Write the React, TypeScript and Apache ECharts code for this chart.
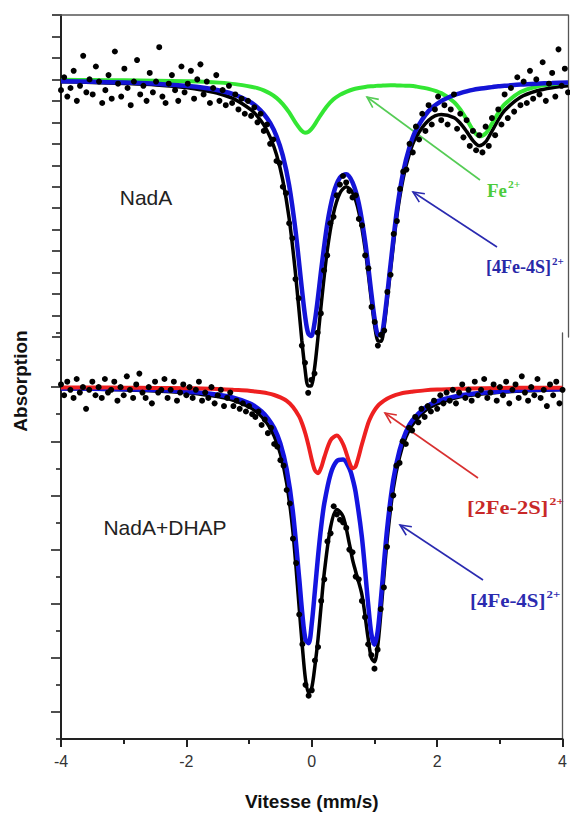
import React, { useEffect, useRef } from "react";
import * as echarts from "echarts";

// Velocity channels of the folded spectra (mm/s)
const VELOCITY_START = -4;
const VELOCITY_STEP = 0.05;

// ---- NadA (upper spectrum) ----
const UPPER_COUNTS = [
  11.5, 12.1, 11.2, 11.6, 12.4, 11.0, 11.7, 13.1, 11.4, 12.0, 11.3, 12.6, 11.9, 10.9, 11.5, 12.2, 11.1, 13.3, 11.8, 11.2,
  12.5, 11.6, 10.8, 11.9, 12.9, 11.3, 11.7, 11.0, 12.3, 11.4, 11.9, 13.5, 11.2, 10.9, 11.8, 12.2, 11.5, 11.0, 12.6, 11.4,
  11.8, 12.4, 11.1, 12.0, 12.7, 11.3, 11.9, 10.9, 11.6, 12.2, 11.0, 11.5, 10.8, 11.7, 10.9, 11.3, 10.6, 11.1, 10.4, 11.0,
  10.3, 10.7, 10.0, 10.4, 9.6, 9.9, 9.0, 9.2, 8.2, 8.1, 7.0, 6.7, 5.3, 4.6, 2.7, 1.8, -0.4, -1.2, -2.6, -2.0,
  -1.7, 0.2, 1.1, 3.1, 3.8, 5.3, 5.6, 6.6, 7.1, 7.5, 7.2, 6.8, 6.5, 6.6, 5.5, 5.2, 3.8, 3.2, 1.4, 0.7,
  -0.4, 0.1, 0.3, 2.1, 2.9, 4.8, 5.4, 6.9, 7.7, 7.8, 9.0, 8.6, 9.8, 9.2, 10.4, 9.6, 10.8, 9.9, 10.6, 11.2,
  10.1, 10.8, 9.9, 10.6, 11.3, 9.7, 10.4, 9.3, 10.1, 8.9, 9.6, 8.7, 9.4, 8.6, 9.8, 8.9, 10.2, 9.4, 10.6, 9.9,
  11.3, 10.2, 11.6, 10.5, 12.1, 10.8, 11.9, 10.9, 12.4, 11.1, 12.0, 11.3, 12.8, 11.0, 11.8, 12.3, 11.2, 13.4, 11.7, 12.5,
  11.4,
];

const UPPER_FIT_VELOCITY = [
  -4, -3.5, -3, -2.5, -2, -1.75, -1.5, -1.25, -1, -0.9, -0.8, -0.7, -0.6, -0.5, -0.4, -0.3, -0.2, -0.15, -0.1, -0.05,
  0, 0.05, 0.1, 0.2, 0.3, 0.4, 0.5, 0.6, 0.7, 0.8, 0.9, 0.95, 1, 1.05, 1.1, 1.2, 1.3, 1.4, 1.5, 1.6,
  1.8, 2, 2.2, 2.3, 2.4, 2.5, 2.6, 2.7, 2.8, 2.9, 3, 3.25, 3.5, 3.75, 4,
];
const UPPER_FIT_TOTAL = [
  11.89, 11.86, 11.81, 11.74, 11.61, 11.49, 11.33, 11.06, 10.58, 10.28, 9.88, 9.31, 8.5, 7.3, 5.52, 2.96, -0.15, -1.48, -2.28, -2.27,
  -1.48, -0.16, 1.34, 4.0, 5.76, 6.7, 7.0, 6.73, 5.81, 4.08, 1.65, 0.51, -0.18, -0.2, 0.51, 3.11, 5.62, 7.4, 8.56, 9.3,
  10.09, 10.36, 10.22, 9.96, 9.58, 9.15, 8.91, 9.09, 9.59, 10.12, 10.55, 11.17, 11.46, 11.61, 11.7,
];
const UPPER_FIT_4FE4S = [
  11.91, 11.89, 11.85, 11.8, 11.69, 11.61, 11.48, 11.28, 10.92, 10.7, 10.39, 9.97, 9.36, 8.45, 7.06, 4.97, 2.26, 1.0, 0.17, 0.05,
  0.64, 1.72, 2.99, 5.24, 6.69, 7.42, 7.58, 7.2, 6.21, 4.43, 1.97, 0.82, 0.11, 0.09, 0.79, 3.38, 5.9, 7.69, 8.86, 9.63,
  10.53, 10.99, 11.27, 11.36, 11.44, 11.51, 11.56, 11.6, 11.64, 11.68, 11.7, 11.76, 11.8, 11.83, 11.86,
];
const UPPER_FIT_FE2 = [
  11.98, 11.97, 11.96, 11.94, 11.91, 11.89, 11.85, 11.78, 11.66, 11.59, 11.49, 11.34, 11.14, 10.85, 10.46, 9.99, 9.6, 9.52, 9.55, 9.68,
  9.88, 10.12, 10.35, 10.76, 11.07, 11.28, 11.42, 11.53, 11.6, 11.65, 11.68, 11.69, 11.71, 11.71, 11.72, 11.73, 11.72, 11.71, 11.7, 11.67,
  11.56, 11.36, 10.95, 10.6, 10.14, 9.64, 9.35, 9.48, 9.94, 10.44, 10.84, 11.41, 11.66, 11.77, 11.84,
];

// ---- NadA + DHAP (lower spectrum) ----
const LOWER_COUNTS = [
  13.1, 12.7, 13.2, 12.9, 12.6, 13.3, 12.8, 13.0, 12.2, 12.9, 13.2, 12.7, 13.0, 12.6, 13.3, 12.8, 12.9, 13.2, 12.5, 13.0,
  12.7, 13.4, 12.9, 12.6, 13.1, 13.5, 12.8, 12.6, 13.0, 12.4, 13.2, 12.8, 12.9, 13.3, 12.6, 12.9, 13.2, 12.5, 12.8, 13.1,
  12.7, 13.0, 12.6, 12.9, 13.2, 12.5, 12.8, 12.6, 13.0, 12.4, 12.7, 12.9, 12.3, 12.6, 12.8, 12.3, 12.5, 12.2, 12.4, 12.1,
  12.3, 12.0, 11.9, 12.1, 11.6, 11.8, 11.3, 11.5, 10.9, 10.8, 10.3, 10.1, 9.2, 8.7, 7.4, 6.5, 4.6, 3.5, 2.0, 1.6,
  1.8, 2.9, 3.4, 5.1, 5.9, 7.3, 7.6, 8.6, 8.3, 8.1, 8.0, 7.8, 7.0, 6.9, 6.0, 5.9, 5.1, 4.5, 3.5, 3.1,
  2.6, 3.3, 4.8, 5.6, 7.1, 8.5, 9.0, 10.1, 10.2, 11.0, 10.9, 11.5, 11.4, 11.9, 11.7, 12.2, 11.9, 12.3, 12.1, 12.5,
  12.2, 12.7, 12.4, 12.8, 12.5, 12.9, 12.4, 12.8, 13.1, 12.6, 12.9, 12.5, 13.2, 12.7, 12.9, 13.3, 12.6, 12.8, 13.1, 12.5,
  13.0, 12.7, 13.2, 12.4, 12.9, 13.1, 12.6, 13.4, 12.8, 12.5, 13.0, 12.7, 13.3, 12.6, 12.9, 12.3, 13.1, 12.7, 13.2, 12.4,
  12.9,
];

const LOWER_FIT_VELOCITY = [
  -4, -3.5, -3, -2.5, -2, -1.75, -1.5, -1.25, -1, -0.9, -0.8, -0.7, -0.6, -0.5, -0.4, -0.3, -0.2, -0.15, -0.1, -0.05,
  0, 0.05, 0.1, 0.15, 0.2, 0.3, 0.4, 0.5, 0.6, 0.65, 0.7, 0.8, 0.9, 0.95, 1, 1.05, 1.1, 1.2, 1.3, 1.4,
  1.5, 1.6, 1.8, 2, 2.25, 2.5, 3, 3.5, 4,
];
const LOWER_FIT_TOTAL = [
  12.94, 12.93, 12.9, 12.86, 12.79, 12.73, 12.65, 12.51, 12.27, 12.12, 11.91, 11.62, 11.19, 10.53, 9.45, 7.64, 4.83, 3.4, 2.2, 1.7,
  1.9, 2.7, 3.7, 4.95, 6.15, 7.83, 8.48, 8.22, 7.21, 6.63, 6.19, 5.33, 3.7, 3.0, 2.85, 3.4, 4.6, 7.29, 9.25, 10.42,
  11.14, 11.59, 12.11, 12.38, 12.58, 12.69, 12.81, 12.87, 12.91,
];
const LOWER_FIT_4FE4S = [
  12.95, 12.94, 12.92, 12.89, 12.83, 12.79, 12.72, 12.61, 12.41, 12.28, 12.1, 11.85, 11.49, 10.91, 9.96, 8.37, 5.92, 4.6, 3.67, 3.54,
  4.27, 5.48, 6.75, 7.85, 8.71, 9.79, 10.27, 10.33, 9.99, 9.63, 9.11, 7.44, 4.97, 3.89, 3.48, 3.96, 5.1, 7.72, 9.57, 10.67,
  11.34, 11.76, 12.23, 12.48, 12.64, 12.74, 12.84, 12.9, 12.92,
];
const LOWER_FIT_2FE2S = [
  12.99, 12.99, 12.98, 12.97, 12.96, 12.95, 12.93, 12.9, 12.87, 12.84, 12.81, 12.77, 12.71, 12.62, 12.49, 12.27, 11.91, 11.63, 11.27, 10.82,
  10.32, 9.93, 9.82, 10.03, 10.41, 11.04, 11.21, 10.89, 10.22, 10.0, 10.08, 10.89, 11.67, 11.94, 12.14, 12.3, 12.41, 12.57, 12.68, 12.75,
  12.8, 12.83, 12.88, 12.91, 12.93, 12.95, 12.97, 12.98, 12.98,
];

const X_TICK_LABELS = ["-4", "-2", "0", "2", "4"];

const channels = (values: number[]) =>
  values.map((v, i) => [Number((VELOCITY_START + i * VELOCITY_STEP).toFixed(2)), v]);
const pairs = (xs: number[], ys: number[]) => xs.map((x, i) => [x, ys[i]]);

function measure(text: string, font: string): number {
  const c = document.createElement("canvas").getContext("2d");
  if (!c) return text.length * 8;
  c.font = font;
  return c.measureText(text).width;
}

function supLabel(x: number, y: number, main: string, sup: string, color: string, size: number, scaleX: number) {
  const fam = '"Liberation Serif", "DejaVu Serif", serif';
  const w = measure(main, `bold ${size}px ${fam}`);
  return {
    type: "group",
    x,
    y,
    scaleX,
    children: [
      { type: "text", style: { text: main, x: 0, y: 0, fontSize: size, fontWeight: "bold", fontFamily: fam, fill: color, align: "left", verticalAlign: "middle" } },
      { type: "text", style: { text: sup, x: w + 1, y: -size * 0.36, fontSize: Math.round(size * 0.62), fontWeight: "bold", fontFamily: fam, fill: color, align: "left", verticalAlign: "middle" } },
    ],
  };
}

function arrow(tail: number[], head: number[], color: string) {
  const dx = head[0] - tail[0];
  const dy = head[1] - tail[1];
  const len = Math.hypot(dx, dy);
  const ux = dx / len;
  const uy = dy / len;
  const a = (25 * Math.PI) / 180;
  const L = 12;
  const r1 = [ux * Math.cos(a) - uy * Math.sin(a), ux * Math.sin(a) + uy * Math.cos(a)];
  const r2 = [ux * Math.cos(a) + uy * Math.sin(a), -ux * Math.sin(a) + uy * Math.cos(a)];
  const w1 = [head[0] - L * r1[0], head[1] - L * r1[1]];
  const w2 = [head[0] - L * r2[0], head[1] - L * r2[1]];
  return [
    { type: "line", shape: { x1: tail[0], y1: tail[1], x2: head[0], y2: head[1] }, style: { stroke: color, lineWidth: 1.6 } },
    { type: "polyline", shape: { points: [w1, head, w2] }, style: { stroke: color, fill: null, lineWidth: 1.6 } },
  ];
}

export default function App() {
  const ref = useRef<HTMLDivElement>(null);

  useEffect(() => {
    if (!ref.current) return;
    const chart = echarts.init(ref.current, null, { renderer: "svg" });
    const axisColor = "#222";
    const sans = '"Liberation Sans", Arial, sans-serif';

    const lineSeries = (name: string, data: number[][], color: string, width: number, gi: number, z: number) => ({
      name,
      type: "line",
      xAxisIndex: gi,
      yAxisIndex: gi,
      data,
      smooth: 0.3,
      showSymbol: false,
      symbol: "none",
      clip: false,
      lineStyle: { color, width },
      z,
    });

    const option: any = {
      animation: false,
      backgroundColor: "#ffffff",
      grid: [
        { left: 61, width: 507, top: 15, height: 322 },
        { left: 61, width: 507, top: 333, height: 409 },
      ],
      xAxis: [
        {
          gridIndex: 0,
          type: "value",
          min: -4,
          max: 4,
          show: false,
        },
        {
          gridIndex: 1,
          type: "value",
          min: -4,
          max: 4,
          interval: 2,
          position: "bottom",
          axisLine: { show: true, onZero: false, lineStyle: { color: axisColor, width: 2 } },
          axisTick: { show: true, length: 8, lineStyle: { color: axisColor, width: 2 } },
          minorTick: { show: true, splitNumber: 2, length: 5, lineStyle: { color: axisColor, width: 2 } },
          axisLabel: {
            show: true,
            margin: 14,
            fontSize: 16,
            color: "#333",
            fontFamily: sans,
            formatter: (v: number) => X_TICK_LABELS[Math.round((v + 4) / 2)] ?? String(v),
          },
          splitLine: { show: false },
          minorSplitLine: { show: false },
          name: "Vitesse (mm/s)",
          nameLocation: "middle",
          nameGap: 53,
          nameTextStyle: { fontSize: 19, fontWeight: "bold", color: "#111", fontFamily: sans },
        },
      ],
      yAxis: [
        {
          gridIndex: 0,
          type: "value",
          min: 0,
          max: 15,
          interval: 1,
          axisLine: { show: true, onZero: false, lineStyle: { color: axisColor, width: 2 } },
          axisTick: { show: true, length: 9, lineStyle: { color: axisColor, width: 1.6 } },
          axisLabel: { show: false },
          splitLine: { show: false },
        },
        {
          gridIndex: 1,
          type: "value",
          min: 0,
          max: 15,
          interval: 2,
          axisLine: { show: true, onZero: false, lineStyle: { color: axisColor, width: 2 } },
          axisTick: { show: true, length: 5, lineStyle: { color: axisColor, width: 1.6 } },
          minorTick: { show: true, splitNumber: 2, length: 10, lineStyle: { color: axisColor, width: 1.6 } },
          axisLabel: { show: false },
          splitLine: { show: false },
          minorSplitLine: { show: false },
        },
        {
          gridIndex: 0,
          type: "value",
          position: "right",
          min: 0,
          max: 15,
          axisLine: { show: true, onZero: false, lineStyle: { color: "#555", width: 1.3 } },
          axisTick: { show: false },
          axisLabel: { show: false },
          splitLine: { show: false },
        },
        {
          gridIndex: 1,
          type: "value",
          position: "right",
          min: 0,
          max: 15,
          axisLine: { show: true, onZero: false, lineStyle: { color: "#555", width: 1.3 } },
          axisTick: { show: false },
          axisLabel: { show: false },
          splitLine: { show: false },
        },
      ],
      series: [
        lineSeries("NadA total", pairs(UPPER_FIT_VELOCITY, UPPER_FIT_TOTAL), "#000000", 3.5, 0, 2),
        lineSeries("Fe2+", pairs(UPPER_FIT_VELOCITY, UPPER_FIT_FE2), "#33e633", 4, 0, 3),
        lineSeries("[4Fe-4S]2+ NadA", pairs(UPPER_FIT_VELOCITY, UPPER_FIT_4FE4S), "#1414d6", 4.5, 0, 4),
        {
          name: "NadA data",
          type: "scatter",
          xAxisIndex: 0,
          yAxisIndex: 0,
          data: channels(UPPER_COUNTS),
          symbolSize: 6,
          itemStyle: { color: "#000", opacity: 1 },
          clip: false,
          z: 5,
        },
        lineSeries("NadA+DHAP total", pairs(LOWER_FIT_VELOCITY, LOWER_FIT_TOTAL), "#000000", 3.5, 1, 2),
        lineSeries("[4Fe-4S]2+ DHAP", pairs(LOWER_FIT_VELOCITY, LOWER_FIT_4FE4S), "#1414e0", 4.5, 1, 3),
        lineSeries("[2Fe-2S]2+", pairs(LOWER_FIT_VELOCITY, LOWER_FIT_2FE2S), "#ee2020", 4, 1, 4),
        {
          name: "NadA+DHAP data",
          type: "scatter",
          xAxisIndex: 1,
          yAxisIndex: 1,
          data: channels(LOWER_COUNTS),
          symbolSize: 6,
          itemStyle: { color: "#000", opacity: 1 },
          clip: false,
          z: 5,
        },
      ],
      graphic: [
        // top frame border
        { type: "line", shape: { x1: 60, y1: 15, x2: 568, y2: 15 }, style: { stroke: "#555", lineWidth: 1.3 }, z: 10 },
        {
          type: "text",
          x: 20,
          y: 381,
          rotation: Math.PI / 2,
          style: { text: "Absorption", align: "center", verticalAlign: "middle", fontSize: 19, fontWeight: "bold", fontFamily: sans, fill: "#111" },
        },
        { type: "text", x: 146, y: 197, style: { text: "NadA", align: "center", verticalAlign: "middle", fontSize: 21, fontFamily: sans, fill: "#222" } },
        { type: "text", x: 165, y: 527, style: { text: "NadA+DHAP", align: "center", verticalAlign: "middle", fontSize: 21, fontFamily: sans, fill: "#222" } },
        ...arrow([480, 180], [367, 97], "#55cc55"),
        ...arrow([497, 247], [413, 192], "#2a2ab0"),
        ...arrow([478, 478], [385, 413], "#d83030"),
        ...arrow([483, 580], [400, 525], "#2a2ab0"),
        supLabel(487, 191, "Fe", "2+", "#4ccc3c", 18, 1.05),
        supLabel(486, 267, "[4Fe-4S]", "2+", "#2828a8", 18, 1.0),
        supLabel(467, 508, "[2Fe-2S]", "2+", "#c82828", 18, 1.25),
        supLabel(470, 601, "[4Fe-4S]", "2+", "#2b2bb0", 18, 1.16),
      ],
    };

    chart.setOption(option);
    return () => chart.dispose();
  }, []);

  return <div ref={ref} style={{ position: "absolute", left: 0, top: 0, width: 570, height: 816 }} />;
}
